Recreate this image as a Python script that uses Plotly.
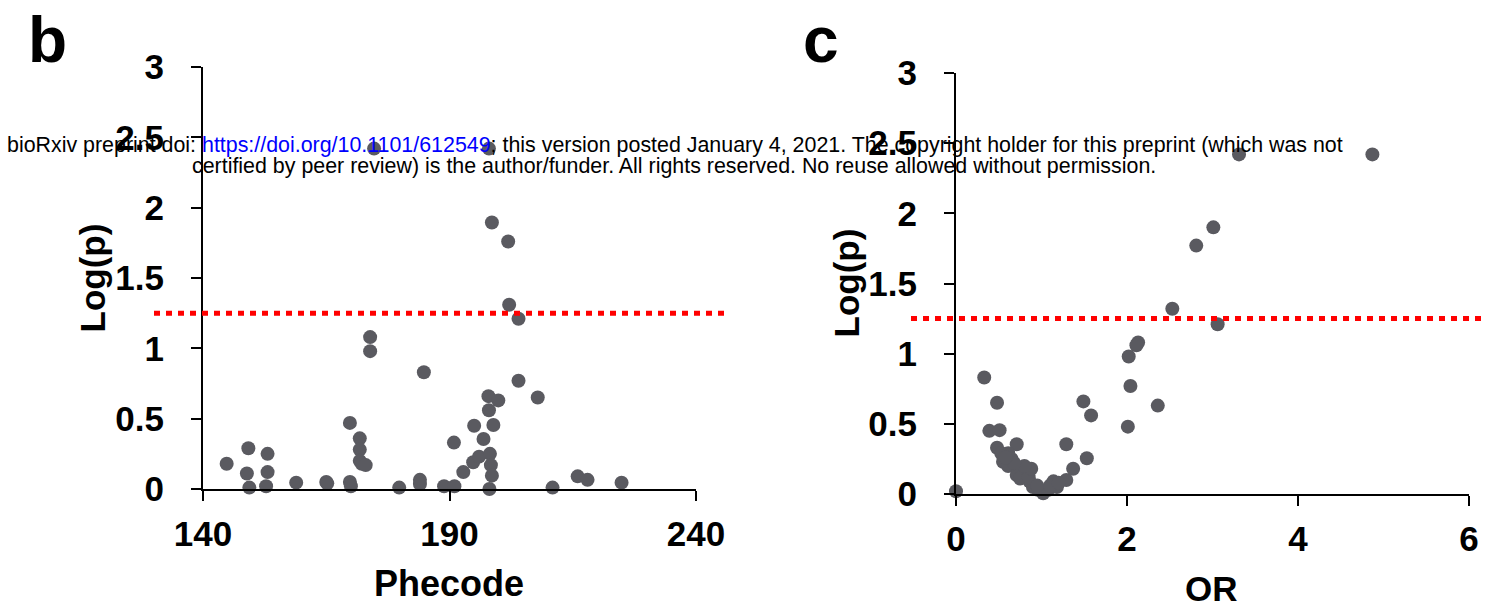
import plotly.graph_objects as go

W, H = 1488, 607

# Panel b: phecode vs -log(p)
phecode = [144.8, 149.2, 148.9, 149.4, 153.1, 153.1, 152.8, 158.9, 165.0, 165.2,
           169.8, 169.8, 170.0, 171.8, 171.8, 171.8, 172.2, 173.0, 173.9, 173.9,
           174.7, 179.8, 184.8, 184.0, 184.0, 188.9, 191.0, 190.9, 192.8, 194.8,
           196.0, 195.0, 196.9, 197.9, 198.0, 198.9, 198.2, 198.4, 198.6, 198.1,
           198.0, 198.6, 199.9, 201.9, 202.1, 204.0, 204.0, 207.9, 210.9, 216.0,
           218.0, 224.9]
logp_b = [0.18, 0.29, 0.11, 0.01, 0.25, 0.12, 0.02, 0.045, 0.05, 0.04,
          0.47, 0.05, 0.02, 0.36, 0.28, 0.20, 0.18, 0.17, 1.08, 0.98,
          2.42, 0.01, 0.83, 0.065, 0.035, 0.02, 0.02, 0.33, 0.12, 0.19,
          0.23, 0.45, 0.355, 0.66, 0.56, 0.455, 0.25, 0.17, 0.095, 0.0,
          2.42, 1.895, 0.63, 1.76, 1.31, 1.21, 0.77, 0.65, 0.01, 0.09,
          0.065, 0.045]

# Panel c: OR vs -log(p)
odds_ratio = [0.0, 0.33, 0.48, 0.39, 0.51, 0.71, 0.48, 0.53, 0.61, 0.55,
              0.61, 0.79, 0.75, 0.71, 0.83, 0.75, 0.86, 0.90, 0.96, 1.02,
              1.08, 1.14, 1.18, 1.29, 1.37, 1.29, 1.53, 1.49, 1.58, 2.01,
              2.04, 2.02, 2.13, 2.11, 2.36, 2.53, 3.06, 2.81, 3.01, 3.31,
              4.87, 0.65, 0.85, 0.95, 1.10, 1.20, 0.88, 0.80, 0.68, 0.58]
logp_c = [0.02, 0.83, 0.65, 0.45, 0.455, 0.355, 0.33, 0.29, 0.29, 0.23,
          0.20, 0.18, 0.17, 0.135, 0.15, 0.11, 0.09, 0.05, 0.03, 0.005,
          0.03, 0.09, 0.05, 0.10, 0.18, 0.355, 0.255, 0.66, 0.56, 0.48,
          0.77, 0.98, 1.08, 1.06, 0.63, 1.32, 1.21, 1.77, 1.90, 2.42,
          2.42, 0.25, 0.12, 0.06, 0.06, 0.08, 0.18, 0.20, 0.22, 0.26]

threshold = 1.25
y_ticks = [0, 0.5, 1, 1.5, 2, 2.5, 3]
y_ticktext = ["0", "0.5", "1", "1.5", "2", "2.5", "3"]
xb_ticks = [140, 190, 240]
xc_ticks = [0, 2, 4, 6]

FONT = "Liberation Sans, Arial, sans-serif"
DOT = "#5a5a60"

def px(x):
    return x / W

def py(y):
    return 1 - y / H

fig = go.Figure()
fig.add_trace(go.Scatter(x=phecode, y=logp_b, mode="markers", xaxis="x", yaxis="y",
                         marker=dict(size=14, color=DOT), cliponaxis=False, showlegend=False))
fig.add_trace(go.Scatter(x=odds_ratio, y=logp_c, mode="markers", xaxis="x2", yaxis="y2",
                         marker=dict(size=14, color=DOT), cliponaxis=False, showlegend=False))

axis_common = dict(showline=True, linecolor="black", linewidth=2, ticks="outside",
                   ticklen=10, tickwidth=2, tickcolor="black", showgrid=False,
                   zeroline=False, automargin=False,
                   tickfont=dict(family=FONT, size=35, color="black", weight="bold"))

fig.update_layout(
    width=W, height=H, margin=dict(l=0, r=0, t=0, b=0, pad=0, autoexpand=False),
    paper_bgcolor="white", plot_bgcolor="white", showlegend=False,
    font=dict(family=FONT, color="black"),
    xaxis=dict(domain=[px(203), px(696)], range=[140, 240], tickvals=xb_ticks,
               anchor="y", ticklabelstandoff=3, **axis_common),
    yaxis=dict(domain=[py(489), py(67)], range=[0, 3], tickvals=y_ticks,
               ticktext=y_ticktext, anchor="x", ticklabelstandoff=20, **axis_common),
    xaxis2=dict(domain=[px(956), px(1469)], range=[0, 6], tickvals=xc_ticks,
                anchor="y2", ticklabelstandoff=3, **axis_common),
    yaxis2=dict(domain=[py(494), py(73)], range=[0, 3], tickvals=y_ticks,
                ticktext=y_ticktext, anchor="x2", ticklabelstandoff=20, **axis_common),
)

# threshold lines
fig.add_shape(type="line", xref="paper", yref="y", x0=px(154), x1=px(726),
              y0=threshold, y1=threshold,
              line=dict(color="#ff0000", width=5, dash="6px,6px"))
fig.add_shape(type="line", xref="paper", yref="y2", x0=px(911), x1=px(1487),
              y0=threshold, y1=threshold,
              line=dict(color="#ff0000", width=5, dash="6px,6px"))

title_font = dict(family=FONT, size=35, color="black", weight="bold")
ann = [
    dict(text="Log(p)", x=px(92.5), y=py(278), textangle=-90, font=title_font),
    dict(text="Log(p)", x=px(845.5), y=py(283), textangle=-90, font=title_font),
    dict(text="Phecode", x=px(449), y=py(583), font=dict(title_font, size=36)),
    dict(text="OR", x=px(1211), y=py(588), font=title_font),
    dict(text="b", x=px(47), y=py(40), font=dict(family=FONT, size=64, color="black", weight="bold")),
    dict(text="c", x=px(821), y=py(40), font=dict(family=FONT, size=64, color="black", weight="bold")),
]
for a in ann:
    fig.add_annotation(xref="paper", yref="paper", showarrow=False,
                       xanchor="center", yanchor="middle", **a)

hdr_font = dict(family=FONT, size=21.4, color="black")
fig.add_annotation(xref="paper", yref="paper", showarrow=False, xanchor="left", yanchor="middle",
                   x=px(5), y=py(145), font=hdr_font,
                   text="bioRxiv preprint doi: <span style='color:#0000ff'>https://doi.org/10.1101/612549</span>; "
                        "this version posted January 4, 2021. The copyright holder for this preprint (which was not")
fig.add_annotation(xref="paper", yref="paper", showarrow=False, xanchor="left", yanchor="middle",
                   x=px(190), y=py(166), font=hdr_font,
                   text="certified by peer review) is the author/funder. All rights reserved. "
                        "No reuse allowed without permission.")

fig.write_html("out.html")
